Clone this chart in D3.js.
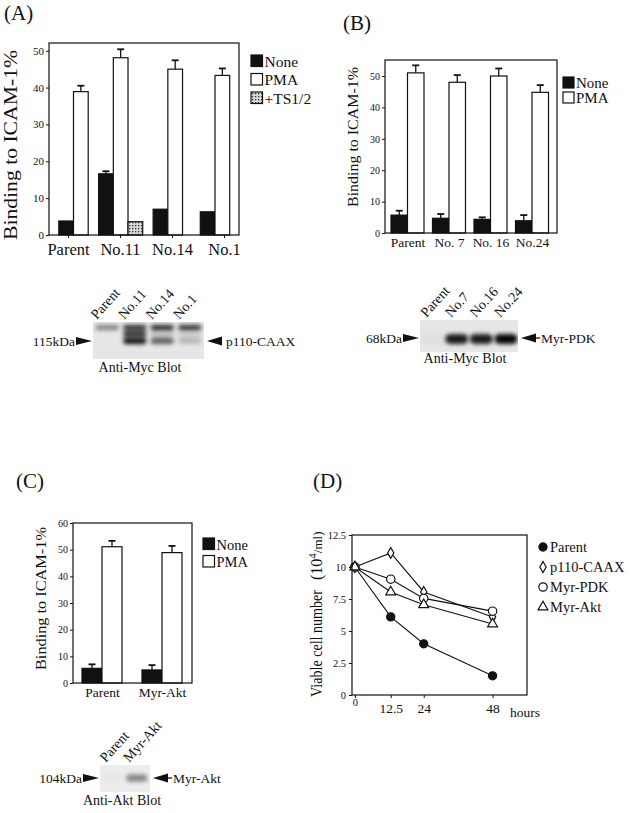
<!DOCTYPE html>
<html><head><meta charset="utf-8">
<script src="https://cdn.jsdelivr.net/npm/d3@7"></script>
<style>
body{margin:0;background:#fff}
svg{display:block}
text{font-family:'Liberation Serif','Times New Roman',serif;fill:#111}
</style>
</head><body>
<svg id="c" width="630" height="813"></svg>
<script>
// ---------------- DATA ----------------
// Panel A
const catsA = ["Parent", "No.11", "No.14", "No.1"];
const noneA = [3.8, 16.6, 7.0, 6.3];
const noneErrA = [null, 0.7, null, null];
const pmaA = [38.9, 48.1, 45.0, 43.3];
const pmaErrA = [1.6, 2.3, 2.4, 1.9];
const ts12A = [null, 3.6, null, null];
const legendA = ["None", "PMA", "+TS1/2"];
const ticksA = [0, 10, 20, 30, 40, 50];

// Panel B
const catsB = ["Parent", "No. 7", "No. 16", "No.24"];
const noneB = [5.7, 4.7, 4.35, 3.9];
const noneErrB = [1.4, 1.35, 0.65, 1.8];
const pmaB = [51.0, 48.0, 50.0, 44.8];
const pmaErrB = [2.4, 2.3, 2.4, 2.3];
const legendB = ["None", "PMA"];
const ticksB = [0, 10, 20, 30, 40, 50];

// Panel C
const catsC = ["Parent", "Myr-Akt"];
const noneC = [5.5, 4.9];
const noneErrC = [1.5, 1.8];
const pmaC = [51.1, 48.9];
const pmaErrC = [2.2, 2.5];
const legendC = ["None", "PMA"];
const ticksC = [0, 10, 20, 30, 40, 50, 60];

// Panel D
const hoursD = [0, 12.5, 24, 48];
const xTicksD = [0, 12.5, 24, 48];
const yTicksD = [0, 2.5, 5, 7.5, 10, 12.5];
const seriesNamesD = ["Parent", "p110-CAAX", "Myr-PDK", "Myr-Akt"];
const parentD = [10, 6.1, 4.0, 1.5];
const p110D = [10, 11.1, 8.05, 6.1];
const pdkD = [10, 9.05, 7.55, 6.55];
const aktD = [10, 8.05, 7.05, 5.55];

// Blots (lane names and band darkness 0..1)
const blotLanesA = ["Parent", "No.11", "No.14", "No.1"];
const blotA_upper = [0.45, 0.8, 0.85, 0.8];
const blotA_smear = [0.0, 0.7, 0.15, 0.1];
const blotA_lower = [0.0, 0.95, 0.6, 0.2];
const blotLanesB = ["Parent", "No.7", "No.16", "No.24"];
const blotB_band = [0.03, 0.88, 0.88, 0.97];
const blotLanesC = ["Parent", "Myr-Akt"];
const blotC_band = [0.02, 0.45];

// ---------------- DRAW ----------------
const svg = d3.select("#c");
svg.append("rect").attr("width", 630).attr("height", 813).attr("fill", "#fff");
const defs = svg.append("defs");
const pat = defs.append("pattern").attr("id", "stip").attr("patternUnits", "userSpaceOnUse")
  .attr("width", 3).attr("height", 3);
pat.append("rect").attr("width", 3).attr("height", 3).attr("fill", "#d8d8d8");
pat.append("rect").attr("width", 1.3).attr("height", 1.3).attr("fill", "#333");
defs.append("filter").attr("id", "blur").attr("x", "-50%").attr("y", "-100%").attr("width", "200%").attr("height", "300%")
  .append("feGaussianBlur").attr("stdDeviation", 2);

const INK = "#111";

function panelLabel(t, x, y) {
  svg.append("text").attr("x", x).attr("y", y).style("font-size", "21px").text(t);
}

function yTitle(t, x, y, size, len) {
  svg.append("text").attr("transform", `translate(${x},${y}) rotate(-90)`)
    .attr("text-anchor", "start").style("font-size", size + "px")
    .attr("textLength", len).attr("lengthAdjust", "spacingAndGlyphs").text(t);
}

function barPanel(p) {
  const g = svg.append("g");
  const f = p.frame;
  const y = d3.scaleLinear().domain([0, p.yMax]).range([f.bottom, f.top]);
  const xc = d3.scalePoint().domain(p.cats).range(p.centerRange);
  const xl = d3.scalePoint().domain(p.cats).range(p.labelRange || p.centerRange);

  // bars
  p.cats.forEach((c, i) => {
    const present = p.series.filter(s => s.values[i] != null);
    const n = present.length;
    const start = xc(c) - n * p.barW / 2;
    present.forEach((s, k) => {
      const x0 = start + k * p.barW;
      g.append("rect").attr("x", x0).attr("y", y(s.values[i]))
        .attr("width", p.barW).attr("height", y(0) - y(s.values[i]))
        .attr("fill", s.fill).attr("stroke", INK).attr("stroke-width", 1.2);
      if (s.errs && s.errs[i] != null) {
        const cx = x0 + p.barW / 2;
        const yt = y(s.values[i] + s.errs[i]);
        g.append("line").attr("x1", cx).attr("x2", cx).attr("y1", y(s.values[i])).attr("y2", yt)
          .attr("stroke", INK).attr("stroke-width", 1.3);
        g.append("line").attr("x1", cx - 3.5).attr("x2", cx + 3.5).attr("y1", yt).attr("y2", yt)
          .attr("stroke", INK).attr("stroke-width", 1.8);
      }
    });
  });

  // frame
  g.append("rect").attr("x", f.left).attr("y", f.top).attr("width", f.right - f.left)
    .attr("height", f.bottom - f.top).attr("fill", "none").attr("stroke", INK).attr("stroke-width", 1.2);

  // y axis
  const ax = g.append("g").attr("transform", `translate(${f.left},0)`)
    .call(d3.axisLeft(y).tickValues(p.ticks).tickSize(3).tickPadding(2).tickFormat(d3.format("d")));
  ax.select(".domain").remove();
  ax.selectAll("line").attr("stroke", INK);
  ax.selectAll("text").style("font-size", p.tickFont + "px");

  // x ticks and labels
  const xa = g.append("g").attr("transform", `translate(0,${f.bottom})`)
    .call(d3.axisBottom(xl).tickSize(p.xTick ? 3 : 0).tickPadding(p.labelPad));
  xa.select(".domain").remove();
  xa.selectAll("line").attr("stroke", INK);
  xa.selectAll("text").style("font-size", p.catFont + "px");

  // legend
  p.series.forEach((s, k) => {
    const ly = p.legend.y + k * p.legend.step;
    g.append("rect").attr("x", p.legend.x).attr("y", ly).attr("width", p.legend.sq).attr("height", p.legend.sq)
      .attr("fill", s.fill).attr("stroke", INK).attr("stroke-width", 1.2);
    g.append("text").attr("x", p.legend.x + p.legend.sq + 2).attr("y", ly + p.legend.sq)
      .style("font-size", p.legend.font + "px").text(s.name);
  });
}

// Panel A
panelLabel("(A)", 4, 20);
barPanel({
  frame: {left: 49, top: 43, right: 239, bottom: 235}, yMax: 52.1, ticks: ticksA, tickFont: 11,
  cats: catsA, centerRange: [73.5, 215], labelRange: [68, 224], barW: 14.7, xTick: true,
  catFont: 16.5, labelPad: 5,
  series: [
    {name: legendA[0], values: noneA, errs: noneErrA, fill: INK},
    {name: legendA[1], values: pmaA, errs: pmaErrA, fill: "#fff"},
    {name: legendA[2], values: ts12A, errs: null, fill: "url(#stip)"}
  ],
  legend: {x: 251, y: 55, step: 18.5, sq: 11.5, font: 15.5}
});
yTitle("Binding to ICAM-1%", 17, 240, 19, 190);

// Panel B
panelLabel("(B)", 343, 30);
barPanel({
  frame: {left: 385, top: 60, right: 557, bottom: 233}, yMax: 55.1, ticks: ticksB, tickFont: 10,
  cats: catsB, centerRange: [407.5, 532], barW: 16.5, xTick: false,
  catFont: 13.5, labelPad: 4,
  series: [
    {name: legendB[0], values: noneB, errs: noneErrB, fill: INK},
    {name: legendB[1], values: pmaB, errs: pmaErrB, fill: "#fff"}
  ],
  legend: {x: 563, y: 77, step: 15, sq: 11, font: 15}
});
yTitle("Binding to ICAM-1%", 358, 207, 15, 140);

// Panel C
panelLabel("(C)", 16, 488);
barPanel({
  frame: {left: 73, top: 523, right: 192, bottom: 683}, yMax: 60, ticks: ticksC, tickFont: 10,
  cats: catsC, centerRange: [102, 162], barW: 20, xTick: false,
  catFont: 13.5, labelPad: 4,
  series: [
    {name: legendC[0], values: noneC, errs: noneErrC, fill: INK},
    {name: legendC[1], values: pmaC, errs: pmaErrC, fill: "#fff"}
  ],
  legend: {x: 203, y: 538, step: 17.5, sq: 11.5, font: 14.5}
});
yTitle("Binding to ICAM-1%", 46, 670, 15.5, 143);

// Panel D
panelLabel("(D)", 313, 488);
(function () {
  const g = svg.append("g");
  const f = {left: 352, top: 535, right: 527, bottom: 695};
  const x = d3.scaleLinear().domain([-1, 60]).range([f.left, f.right]);
  const y = d3.scaleLinear().domain([0, 12.5]).range([f.bottom, f.top]);
  const series = [
    {name: seriesNamesD[0], values: parentD, sym: d3.symbolCircle, size: 52, fill: INK},
    {name: seriesNamesD[1], values: p110D, sym: d3.symbolDiamond, size: 34, fill: "#fff"},
    {name: seriesNamesD[2], values: pdkD, sym: d3.symbolCircle, size: 55, fill: "#fff"},
    {name: seriesNamesD[3], values: aktD, sym: d3.symbolTriangle, size: 42, fill: "#fff"}
  ];
  const line = d3.line().x((d, i) => x(hoursD[i])).y(d => y(d));
  series.forEach(s => {
    g.append("path").attr("d", line(s.values)).attr("fill", "none").attr("stroke", INK).attr("stroke-width", 1.1);
  });
  series.forEach(s => {
    g.selectAll(null).data(s.values).join("path")
      .attr("transform", (d, i) => `translate(${x(hoursD[i])},${y(d)})`)
      .attr("d", d3.symbol().type(s.sym).size(s.size))
      .attr("fill", s.fill).attr("stroke", INK).attr("stroke-width", 1.2);
  });
  g.append("rect").attr("x", f.left).attr("y", f.top).attr("width", f.right - f.left)
    .attr("height", f.bottom - f.top).attr("fill", "none").attr("stroke", INK).attr("stroke-width", 1.2);
  const ay = g.append("g").attr("transform", `translate(${f.left},0)`)
    .call(d3.axisLeft(y).tickValues(yTicksD).tickSize(3).tickPadding(3).tickFormat(d => String(d)));
  ay.select(".domain").remove();
  ay.selectAll("line").attr("stroke", INK);
  ay.selectAll("text").style("font-size", "10.5px");
  const ax = g.append("g").attr("transform", `translate(0,${f.bottom})`)
    .call(d3.axisBottom(x).tickValues(xTicksD).tickSize(3).tickPadding(5).tickFormat(d => String(d)));
  ax.select(".domain").remove();
  ax.selectAll("line").attr("stroke", INK);
  ax.selectAll("text").style("font-size", "13.5px");
  ax.selectAll("text").filter(d => d === 0).style("font-size", "10.5px").attr("dy", "0.3em");
  g.append("text").attr("x", 525).attr("y", 717).attr("text-anchor", "middle").style("font-size", "13.5px").text("hours");

  // legend
  series.forEach((s, k) => {
    const ly = 547 + k * 20;
    g.append("path").attr("transform", `translate(543,${ly})`)
      .attr("d", d3.symbol().type(s.sym).size(s.size)).attr("fill", s.fill).attr("stroke", INK).attr("stroke-width", 1.2);
    g.append("text").attr("x", 550).attr("y", ly + 5).style("font-size", "14.5px").text(s.name);
  });

  // y title
  const t = svg.append("text").attr("transform", "translate(322,697) rotate(-90)").style("font-size", "16px");
  t.append("tspan").attr("textLength", 107).attr("lengthAdjust", "spacingAndGlyphs").text("Viable cell number");
  t.append("tspan").attr("dx", 10).text("(10");
  t.append("tspan").attr("dy", -6).style("font-size", "11px").text("4");
  t.append("tspan").attr("dy", 6).style("font-size", "13px").text("/ml)");
})();

// ---------------- BLOTS ----------------
function blot(o) {
  const g = svg.append("g");
  const cid = "clip" + o.id;
  defs.append("clipPath").attr("id", cid).append("rect")
    .attr("x", o.x).attr("y", o.y).attr("width", o.w).attr("height", o.h);
  g.append("rect").attr("x", o.x).attr("y", o.y).attr("width", o.w).attr("height", o.h).attr("fill", o.bg);
  const lane = d3.scaleBand().domain(o.lanes).range([o.x, o.x + o.w]).paddingInner(o.padIn).paddingOuter(o.padOut);
  const bg = g.append("g").attr("clip-path", `url(#${cid})`);
  o.rows.forEach(r => {
    o.lanes.forEach((l, i) => {
      if (!r.vals[i]) return;
      bg.append("rect").attr("x", lane(l)).attr("y", r.cy - r.h / 2)
        .attr("width", lane.bandwidth()).attr("height", r.h).attr("rx", r.h / 2)
        .attr("fill", "#000").attr("fill-opacity", r.vals[i]).attr("filter", "url(#blur)");
    });
  });
  // lane labels
  o.lanes.forEach(l => {
    g.append("text").attr("transform", `translate(${lane(l) + o.labDx},${o.y - 2}) rotate(-48)`)
      .style("font-size", o.labFont + "px").text(l);
  });
  // caption
  g.append("text").attr("x", o.capX).attr("y", o.capY).attr("text-anchor", "middle")
    .style("font-size", "14px").text(o.caption);
  // left size marker
  const lx = o.x - 1;
  g.append("path").attr("d", `M${lx - 16},${o.my - 4} L${lx},${o.my} L${lx - 16},${o.my + 4} Z`).attr("fill", INK);
  g.append("text").attr("x", lx - 17).attr("y", o.my + 4.5).attr("text-anchor", "end")
    .style("font-size", "13.5px").text(o.kda);
  // right marker
  const rx = o.x + o.w + 3;
  g.append("path").attr("d", `M${rx},${o.my} L${rx + 15},${o.my - 4.5} L${rx + 15},${o.my + 4.5} Z`).attr("fill", INK);
  if (o.stem) g.append("line").attr("x1", rx + 14).attr("x2", rx + 19).attr("y1", o.my).attr("y2", o.my)
    .attr("stroke", INK).attr("stroke-width", 1.3);
  g.append("text").attr("x", rx + (o.stem ? 20 : 19)).attr("y", o.my + 4.5)
    .style("font-size", "13.5px").text(o.target);
}

blot({
  id: "A", x: 93, y: 322, w: 111, h: 37, bg: "#e6e6e6", lanes: blotLanesA, padIn: 0.16, padOut: 0.1,
  rows: [{cy: 327.5, h: 5, vals: blotA_upper}, {cy: 334, h: 9, vals: blotA_smear}, {cy: 341, h: 6, vals: blotA_lower}],
  labDx: 1, labFont: 14, caption: "Anti-Myc Blot", capX: 140, capY: 372,
  my: 341, kda: "115kDa", target: "p110-CAAX", stem: false
});
blot({
  id: "B", x: 420, y: 320, w: 98, h: 32, bg: "#e6e6e6", lanes: blotLanesB, padIn: 0.06, padOut: 0.02,
  rows: [{cy: 339, h: 10, vals: blotB_band}],
  labDx: 6, labFont: 14, caption: "Anti-Myc Blot", capX: 465, capY: 363,
  my: 338, kda: "68kDa", target: "Myr-PDK", stem: true
});
blot({
  id: "C", x: 100, y: 765, w: 50, h: 27, bg: "#ececec", lanes: blotLanesC, padIn: 0.1, padOut: 0.12,
  rows: [{cy: 778, h: 7, vals: blotC_band}],
  labDx: 3, labFont: 14, caption: "Anti-Akt Blot", capX: 122, capY: 805,
  my: 778, kda: "104kDa", target: "Myr-Akt", stem: true
});
</script>
</body></html>
